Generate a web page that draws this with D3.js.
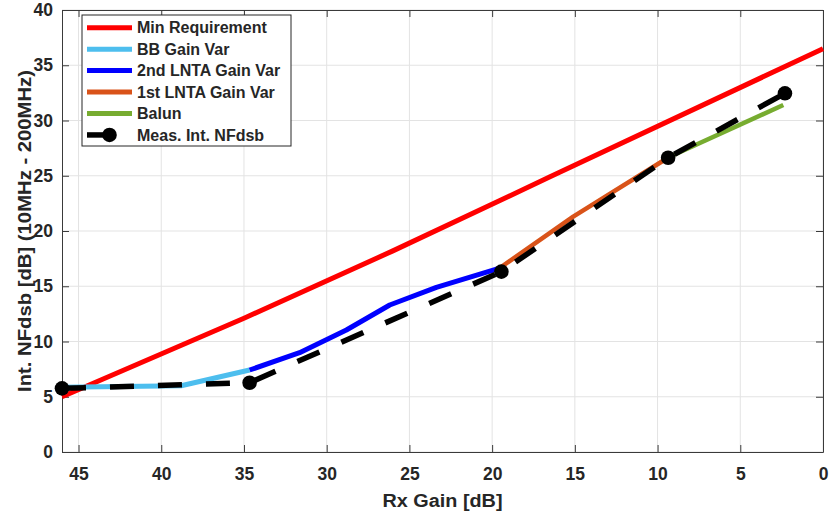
<!DOCTYPE html>
<html>
<head>
<meta charset="utf-8">
<script src="https://cdn.jsdelivr.net/npm/d3@7"></script>
<style>
  html, body { margin: 0; padding: 0; background: #fff; }
  svg { display: block; }
  text { font-family: "Liberation Sans", Arial, Helvetica, sans-serif; font-weight: bold; fill: #262626; }
</style>
</head>
<body>
<svg id="chart" width="829" height="513"></svg>
<script>
// Rx gain (dB) vs integrated noise figure (dB) for each gain-control stage
const minReqGain = [46, 35, 26, 16.5, 0];
const minReqNF   = [5.0, 12.1, 18.2, 24.9, 36.5];

const bbGain = [46, 38.8, 34.66];
const bbNF   = [5.85, 6.0, 7.42];

const lnta2Gain = [34.66, 31.64, 28.81, 26.19, 23.37, 19.54];
const lnta2NF   = [7.42, 8.99, 11.04, 13.3, 14.9, 16.65];

const lnta1Gain = [19.54, 15.1, 9.3];
const lnta1NF   = [16.65, 21.3, 26.7];

const balunGain = [9.3, 2.4];
const balunNF   = [26.7, 31.4];

const measGain = [46.0, 34.66, 19.44, 9.36, 2.3];
const measNF   = [5.76, 6.27, 16.32, 26.63, 32.46];

const xTicks = [45, 40, 35, 30, 25, 20, 15, 10, 5, 0];
const yTicks = [0, 5, 10, 15, 20, 25, 30, 35, 40];

const legendNames = ["Min Requirement", "BB Gain Var", "2nd LNTA Gain Var",
                     "1st LNTA Gain Var", "Balun", "Meas. Int. NFdsb"];

const xLabel = "Rx Gain [dB]";
const yLabel = "Int. NFdsb [dB] (10MHz - 200MHz)";

const colors = {
  red: "#ff0000",
  bb: "#4dbeee",
  lnta2: "#0000ff",
  lnta1: "#d95319",
  balun: "#77ac30",
  meas: "#000000"
};

const svg = d3.select("#chart");
const L = 62, R = 823, T = 10, B = 452;

const x = d3.scaleLinear().domain([46, 0]).range([L, R]);
const y = d3.scaleLinear().domain([0, 40]).range([B, T]);

// grid
const grid = svg.append("g");
grid.selectAll("line.gx").data(xTicks).join("line")
  .attr("x1", d => x(d)).attr("x2", d => x(d))
  .attr("y1", T).attr("y2", B)
  .attr("stroke", "#e3e3e3").attr("stroke-width", 1);
grid.selectAll("line.gy").data(yTicks).join("line")
  .attr("x1", L).attr("x2", R)
  .attr("y1", d => y(d)).attr("y2", d => y(d))
  .attr("stroke", "#e3e3e3").attr("stroke-width", 1);

// axes (ticks pointing inward, box on)
const tickLen = 7;
const axisColor = "#3a3a3a";
const xAxis = svg.append("g").attr("transform", `translate(0,${B})`)
  .call(d3.axisBottom(x).tickValues(xTicks).tickSizeInner(-tickLen).tickSizeOuter(0).tickPadding(16));
const yAxis = svg.append("g").attr("transform", `translate(${L},0)`)
  .call(d3.axisLeft(y).tickValues(yTicks).tickSizeInner(-tickLen).tickSizeOuter(0).tickPadding(16));
const xTop = svg.append("g").attr("transform", `translate(0,${T})`)
  .call(d3.axisTop(x).tickValues(xTicks).tickSizeInner(-tickLen).tickSizeOuter(0).tickFormat(""));
const yRight = svg.append("g").attr("transform", `translate(${R},0)`)
  .call(d3.axisRight(y).tickValues(yTicks).tickSizeInner(-tickLen).tickSizeOuter(0).tickFormat(""));

[xAxis, yAxis, xTop, yRight].forEach(g => {
  g.select(".domain").attr("stroke", axisColor).attr("stroke-width", 1);
  g.selectAll(".tick line").attr("stroke", axisColor);
  g.selectAll("text").attr("font-size", 17.5).attr("font-family", null).attr("fill", "#262626");
});
xAxis.selectAll(".tick text").attr("dy", "0.35em").attr("y", 22);
yAxis.selectAll(".tick text").attr("x", -9);

// axis titles
svg.append("text").attr("x", (L + R) / 2).attr("y", 507)
  .attr("text-anchor", "middle").attr("font-size", 18)
  .attr("textLength", 120).attr("lengthAdjust", "spacingAndGlyphs").text(xLabel);
svg.append("text")
  .attr("transform", `translate(31,${(T + B) / 2}) rotate(-90)`)
  .attr("text-anchor", "middle").attr("font-size", 18)
  .attr("textLength", 322).attr("lengthAdjust", "spacingAndGlyphs").text(yLabel);

// data lines
const line = d3.line().x(d => x(d[0])).y(d => y(d[1]));
const zip = (a, b) => a.map((v, i) => [v, b[i]]);

const series = [
  { pts: zip(minReqGain, minReqNF), color: colors.red, w: 5 },
  { pts: zip(bbGain, bbNF), color: colors.bb, w: 5 },
  { pts: zip(lnta2Gain, lnta2NF), color: colors.lnta2, w: 5 },
  { pts: zip(lnta1Gain, lnta1NF), color: colors.lnta1, w: 4.5 },
  { pts: zip(balunGain, balunNF), color: colors.balun, w: 4.5 }
];
series.forEach(s => {
  svg.append("path").datum(s.pts).attr("d", line)
    .attr("fill", "none").attr("stroke", s.color).attr("stroke-width", s.w)
    .attr("stroke-linejoin", "round");
});

const meas = zip(measGain, measNF);
svg.append("path").datum(meas).attr("d", line)
  .attr("fill", "none").attr("stroke", colors.meas).attr("stroke-width", 5.5)
  .attr("stroke-dasharray", "24,24");
svg.selectAll("circle.meas").data(meas).join("circle")
  .attr("cx", d => x(d[0])).attr("cy", d => y(d[1])).attr("r", 7.3)
  .attr("fill", colors.meas);

// legend
const lg = svg.append("g");
lg.append("rect").attr("x", 82).attr("y", 15).attr("width", 209).attr("height", 131)
  .attr("fill", "#fff").attr("stroke", "#262626").attr("stroke-width", 1);
const legendColors = [colors.red, colors.bb, colors.lnta2, colors.lnta1, colors.balun, colors.meas];
legendNames.forEach((name, i) => {
  const cy = 27.7 + i * 21.45;
  if (i < 5) {
    lg.append("line").attr("x1", 87).attr("x2", 132).attr("y1", cy).attr("y2", cy)
      .attr("stroke", legendColors[i]).attr("stroke-width", 5);
  } else {
    lg.append("line").attr("x1", 87).attr("x2", 109.5).attr("y1", cy).attr("y2", cy)
      .attr("stroke", legendColors[i]).attr("stroke-width", 5.5);
    lg.append("circle").attr("cx", 109.5).attr("cy", cy).attr("r", 7.3).attr("fill", legendColors[i]);
  }
  lg.append("text").attr("x", 137).attr("y", cy).attr("dy", "0.36em")
    .attr("font-size", 16).text(name);
});
</script>
</body>
</html>
